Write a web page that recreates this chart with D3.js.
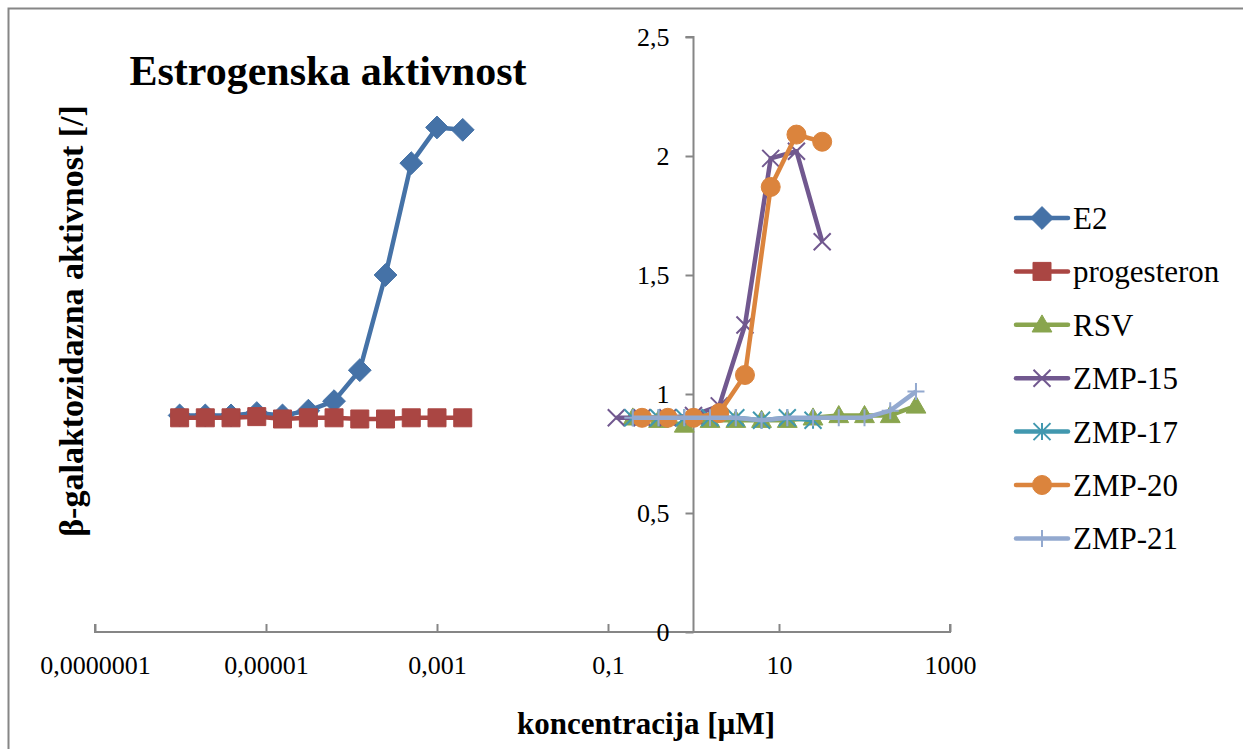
<!DOCTYPE html>
<html>
<head>
<meta charset="utf-8">
<script src="https://cdn.jsdelivr.net/npm/d3@7"></script>
<style>
  body { margin: 0; background: #fff; }
  svg text { font-family: "Liberation Serif", "DejaVu Serif", serif; }
</style>
</head>
<body>
<svg id="chart" width="1243" height="749"></svg>
<script>
// data
const seriesNames = ["E2", "progesteron", "RSV", "ZMP-15", "ZMP-17", "ZMP-20", "ZMP-21"];
const e2Conc = [0.000000977, 0.00000195, 0.0000039, 0.0000078, 0.0000156, 0.0000313, 0.0000625, 0.000125, 0.00025, 0.0005, 0.001, 0.002];
const e2Vals = [0.91, 0.91, 0.91, 0.92, 0.91, 0.93, 0.97, 1.10, 1.50, 1.97, 2.12, 2.11];
const progConc = e2Conc;
const progVals = [0.90, 0.90, 0.90, 0.905, 0.895, 0.90, 0.90, 0.895, 0.895, 0.90, 0.90, 0.90];
const rsvConc = [0.195, 0.39, 0.78, 1.56, 3.125, 6.25, 12.5, 25, 50, 100, 200, 400];
const rsvVals = [0.90, 0.89, 0.87, 0.89, 0.89, 0.89, 0.89, 0.90, 0.91, 0.91, 0.91, 0.95];
const zmp15Conc = [0.125, 0.25, 0.5, 1, 2, 4, 8, 16, 32];
const zmp15Vals = [0.90, 0.90, 0.90, 0.91, 0.95, 1.29, 1.99, 2.02, 1.64];
const zmp17Conc = [0.195, 0.39, 0.78, 1.56, 3.125, 6.25, 12.5, 25];
const zmp17Vals = [0.90, 0.90, 0.90, 0.90, 0.90, 0.89, 0.90, 0.89];
const zmp20Conc = [0.25, 0.5, 1, 2, 4, 8, 16, 32];
const zmp20Vals = [0.90, 0.90, 0.90, 0.92, 1.08, 1.87, 2.09, 2.06];
const zmp21Conc = rsvConc;
const zmp21Vals = [0.90, 0.90, 0.90, 0.90, 0.90, 0.89, 0.90, 0.90, 0.90, 0.90, 0.93, 1.01];

const xTicks = [1e-7, 1e-5, 1e-3, 0.1, 10, 1000];
const xTickLabels = ["0,0000001", "0,00001", "0,001", "0,1", "10", "1000"];
const yTicks = [0, 0.5, 1, 1.5, 2, 2.5];
const yTickLabels = ["0", "0,5", "1", "1,5", "2", "2,5"];

const colors = ["#4572A7", "#AA4643", "#89A54E", "#71588F", "#4198AF", "#DB843D", "#93A9CF"];
const markers = ["diamond", "square", "triangle", "cross", "star", "circle", "plus"];

const series = [
  [e2Conc, e2Vals], [progConc, progVals], [rsvConc, rsvVals], [zmp15Conc, zmp15Vals],
  [zmp17Conc, zmp17Vals], [zmp20Conc, zmp20Vals], [zmp21Conc, zmp21Vals]
].map((s, i) => ({ name: seriesNames[i], color: colors[i], marker: markers[i],
  points: s[0].map((c, j) => ({ x: c, y: s[1][j] })) }));

const svg = d3.select("#chart");
const axisGray = "#868686";

// outer chart border
svg.append("rect").attr("x", 8.5).attr("y", 8.5).attr("width", 1250).attr("height", 760)
  .attr("fill", "none").attr("stroke", axisGray).attr("stroke-width", 2);

const x = d3.scaleLog().domain([1e-7, 1000]).range([95, 950]);
const y = d3.scaleLinear().domain([0, 2.5]).range([632, 37]);

// x axis, crossing at y = 0
const xAxis = svg.append("g").attr("transform", `translate(0,${y(0)})`)
  .call(d3.axisBottom(x).tickValues(xTicks).tickSize(-8).tickPadding(24)
    .tickFormat((d, i) => xTickLabels[i]));
// y axis, crossing at x = 1
const yAxis = svg.append("g").attr("transform", `translate(${x(1)},0)`)
  .call(d3.axisLeft(y).tickValues(yTicks).tickSize(8).tickPadding(16)
    .tickFormat((d, i) => yTickLabels[i]));
[xAxis, yAxis].forEach(g => {
  g.attr("font-family", null);
  g.select(".domain").attr("stroke", axisGray).attr("stroke-width", 2);
  g.selectAll(".tick line").attr("stroke", axisGray).attr("stroke-width", 2);
  g.selectAll("text").attr("font-size", 26).attr("fill", "#000");
});
xAxis.select(".domain").attr("d", `M${x.range()[0]},-8V0H${x.range()[1]}V-8`);
yAxis.select(".domain").attr("d", `M-8,${y.range()[1]}H0V${y.range()[0]}`);

// marker shapes
function markerPath(type, s) {
  const h = s / 2;
  switch (type) {
    case "diamond": return `M0,${-h * 1.2}L${h * 1.2},0L0,${h * 1.2}L${-h * 1.2},0Z`;
    case "square": return `M${-h},${-h}H${h}V${h}H${-h}Z`;
    case "triangle": return `M0,${-h * 1.1}L${h * 1.1},${h * 0.8}H${-h * 1.1}Z`;
    case "circle": return d3.symbol(d3.symbolCircle, Math.PI * h * h)();
    case "cross": return `M${-h},${-h}L${h},${h}M${-h},${h}L${h},${-h}`;
    case "star": return `M${-h},${-h}L${h},${h}M${-h},${h}L${h},${-h}M0,${-h}V${h}`;
    case "plus": return `M0,${-h}V${h}M${-h},0H${h}`;
  }
}
const filled = t => ["diamond", "square", "triangle", "circle"].includes(t);

function drawMarker(g, type, color, cx, cy, size) {
  const p = g.append("path").attr("d", markerPath(type, size))
    .attr("transform", `translate(${cx},${cy})`);
  if (filled(type)) p.attr("fill", color).attr("stroke", color).attr("stroke-width", 1);
  else p.attr("fill", "none").attr("stroke", color).attr("stroke-width", 2);
}

const markerSize = { diamond: 19, square: 18, triangle: 18, circle: 19, cross: 17, star: 17, plus: 17 };

const line = d3.line().x(d => x(d.x)).y(d => y(d.y));
series.forEach(s => {
  const g = svg.append("g");
  g.append("path").datum(s.points).attr("d", line).attr("fill", "none")
    .attr("stroke", s.color).attr("stroke-width", 4.5).attr("stroke-linejoin", "round");
  s.points.forEach(p => drawMarker(g, s.marker, s.color, x(p.x), y(p.y), markerSize[s.marker]));
});

// legend
const legend = svg.append("g");
series.forEach((s, i) => {
  const ly = 218 + i * 53.4;
  legend.append("line").attr("x1", 1016).attr("x2", 1068).attr("y1", ly).attr("y2", ly)
    .attr("stroke", s.color).attr("stroke-width", 4.5).attr("stroke-linecap", "round");
  drawMarker(legend, s.marker, s.color, 1042, ly, markerSize[s.marker]);
  legend.append("text").attr("x", 1073).attr("y", ly + 11).attr("font-size", 31).text(s.name);
});

// titles
svg.append("text").attr("x", 328).attr("y", 85).attr("text-anchor", "middle")
  .attr("font-size", 42).attr("font-weight", "bold").text("Estrogenska aktivnost");
svg.append("text").attr("x", 646).attr("y", 734).attr("text-anchor", "middle")
  .attr("font-size", 31).attr("font-weight", "bold").text("koncentracija [µM]");
svg.append("text").attr("transform", "translate(83,321) rotate(-90)").attr("text-anchor", "middle")
  .attr("font-size", 34).attr("font-weight", "bold").text("β-galaktozidazna aktivnost [/]");
</script>
</body>
</html>
